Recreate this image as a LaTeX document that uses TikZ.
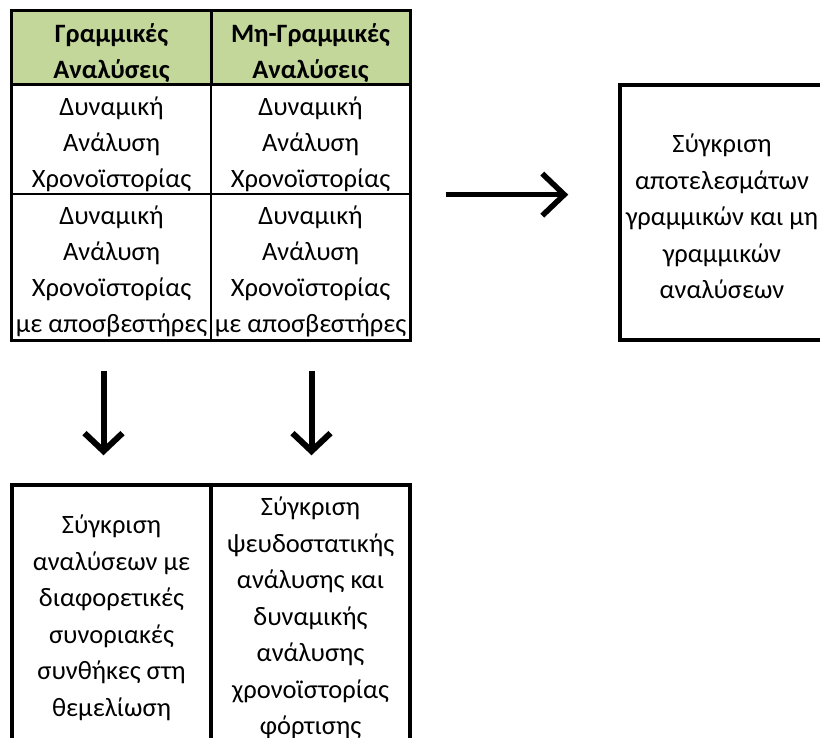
\documentclass[tikz,border=0pt]{standalone}
\usepackage{fontspec}
\setmainfont{Carlito}
\usetikzlibrary{arrows.meta}
\definecolor{hgreen}{HTML}{C4D79B}
\newcommand{\lift}[1]{\rule{0pt}{#1}}
\begin{document}
\begin{tikzpicture}[x=1pt,y=-1pt,
  cell/.style={draw=black, line width=1.3pt, minimum width=199pt, inner sep=0pt,
    align=center, font=\fontsize{26.5}{36}\selectfont},
  hcell/.style={cell, fill=hgreen, minimum height=73pt,
    font=\fontsize{26.5}{36}\selectfont\bfseries},
  thick border/.style={line width=3.5pt},
  box/.style={draw=black, line width=3.5pt, inner sep=0pt, align=center,
    font=\fontsize{26.5}{36.5}\selectfont},
  arr/.style={line width=5.5pt, -{Straight Barb[length=22pt,width=42pt]}},
  darr/.style={line width=6pt, -{Straight Barb[length=18pt,width=38pt]}}]
\useasboundingbox (0,0) rectangle (820,737);
% table
\node[hcell] (h1) at (111.5,47.5) {\lift{30pt}Γραμμικές\\Αναλύσεις};
\node[hcell] (h2) at (310.5,47.5) {\lift{30pt}Μη-Γραμμικές\\Αναλύσεις};
\node[cell, minimum height=110pt] (r1c1) at (111.5,139) {\lift{29pt}Δυναμική\\Ανάλυση\\Χρονοϊστορίας};
\node[cell, minimum height=110pt] (r1c2) at (310.5,139) {\lift{29pt}Δυναμική\\Ανάλυση\\Χρονοϊστορίας};
\node[cell, minimum height=146pt] (r2c1) at (111.5,267) {\lift{28pt}Δυναμική\\Ανάλυση\\Χρονοϊστορίας\\με αποσβεστήρες};
\node[cell, minimum height=146pt] (r2c2) at (310.5,267) {\lift{28pt}Δυναμική\\Ανάλυση\\Χρονοϊστορίας\\με αποσβεστήρες};
\draw[thick border] (h1.north west) rectangle (r2c2.south east);
\draw[thick border] (h1.south west) -- (h2.south east);
\draw[thick border] (h1.north east) -- (h1.south east);
% right box
\node[box, minimum width=204pt, minimum height=255pt] (R) at (722,212.5)
  {\lift{27pt}Σύγκριση\\αποτελεσμάτων\\γραμμικών και μη\\γραμμικών\\αναλύσεων};
% bottom boxes
\node[box, minimum width=199pt, minimum height=266pt] (B1) at (111.5,618)
  {Σύγκριση\\αναλύσεων με\\διαφορετικές\\συνοριακές\\συνθήκες στη\\θεμελίωση};
\node[box, minimum width=199pt, minimum height=266pt] (B2) at (310.5,618)
  {Σύγκριση\\ψευδοστατικής\\ανάλυσης και\\δυναμικής\\ανάλυσης\\χρονοϊστορίας\\φόρτισης};
% arrows
\draw[arr, shorten <=35pt, shorten >=50pt] (r1c2.south east) -- (R.west |- r1c2.south east);
\draw[darr, shorten <=30pt, shorten >=28pt] ([xshift=-8pt]r2c1.south) -- ([xshift=-8pt]B1.north);
\draw[darr, shorten <=30pt, shorten >=28pt] ([xshift=1pt]r2c2.south) -- ([xshift=1pt]B2.north);
\end{tikzpicture}
\end{document}
